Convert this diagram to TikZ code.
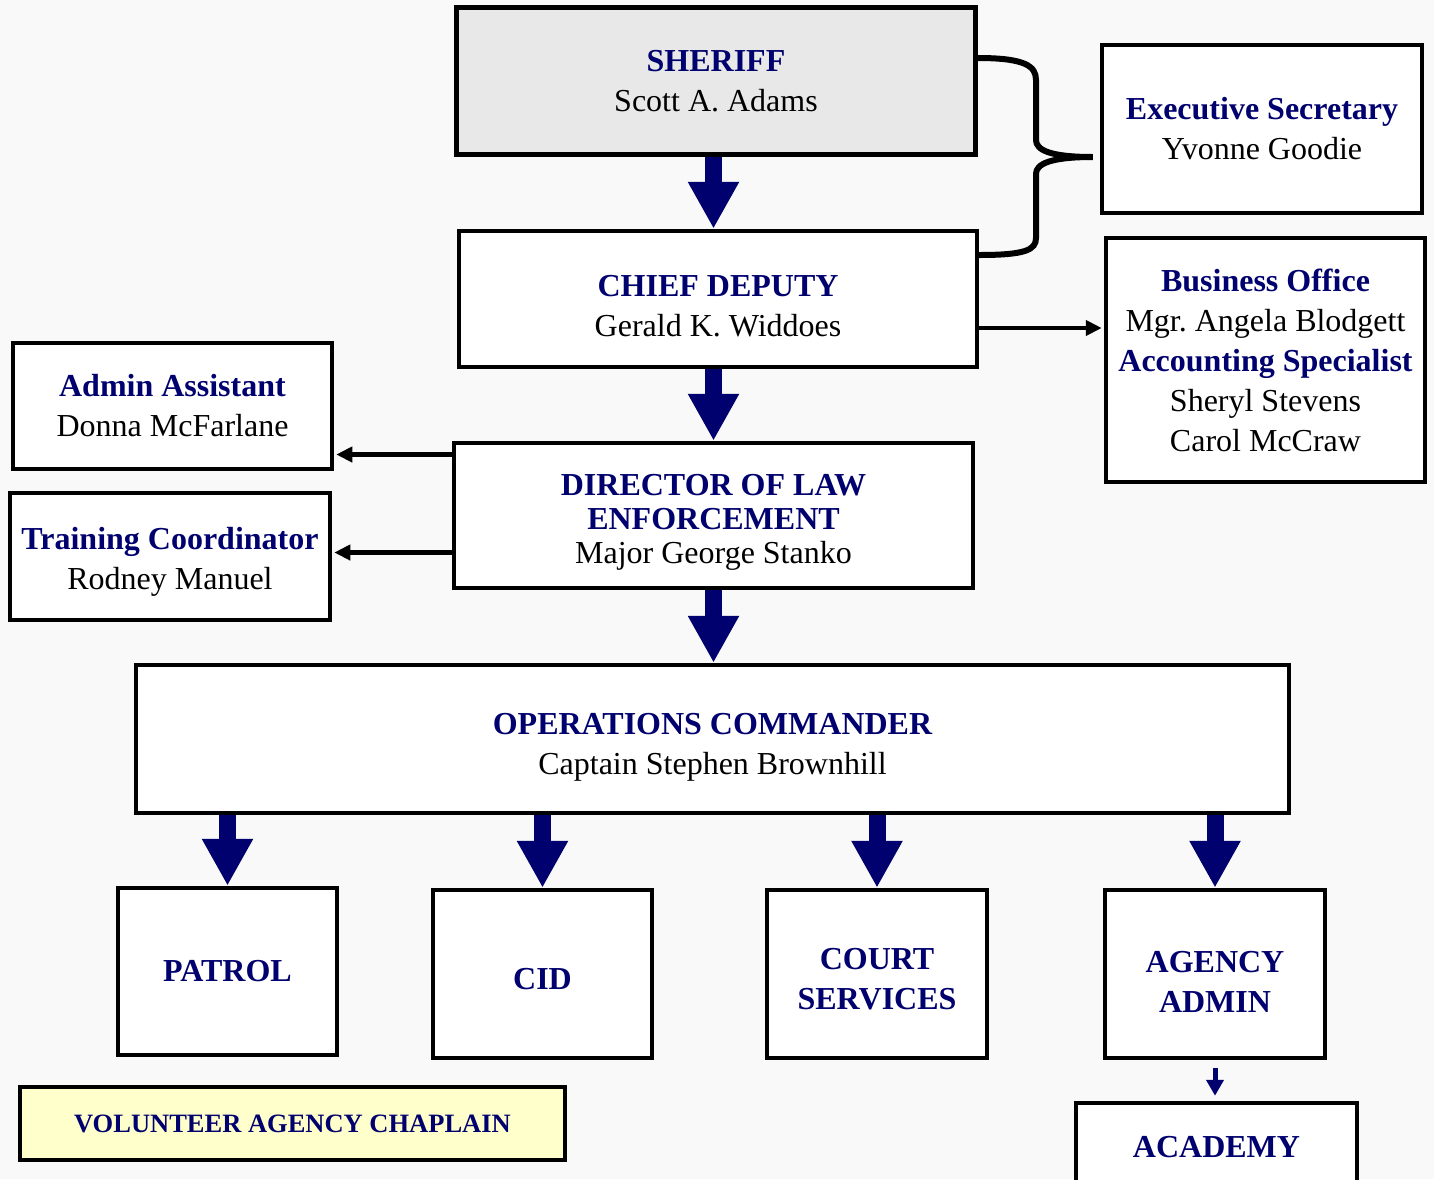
\documentclass[tikz,border=0pt]{standalone}
\usepackage{fontspec}
\setmainfont{Liberation Serif}
\usetikzlibrary{arrows.meta}
\definecolor{navy}{RGB}{0,0,110}
\definecolor{sheriffgray}{RGB}{232,232,232}
\definecolor{chaplainyellow}{RGB}{255,255,204}
\definecolor{pagegray}{RGB}{249,249,249}
\newcommand{\post}[1]{{\bfseries\color{navy}#1}}
\newcommand{\lowerby}[1]{\rule{0pt}{#1}}

\begin{document}
\begin{tikzpicture}[x=0.5pt,y=-0.5pt,
    box/.style={rectangle,draw,line width=2.25pt,fill=white,align=center,
      inner sep=0pt,font=\fontsize{16}{20}\selectfont},
    big arrow/.style={draw=navy,line width=8.5pt,-{Triangle[length=23.5pt,width=24pt]}},
    small arrow/.style={draw=navy,line width=2.5pt,-{Triangle[length=8pt,width=8.5pt]}},
    side arrow/.style={draw,line width=2.25pt,shorten >=1pt,-{Triangle[length=8pt,width=7.5pt]}},
    brace/.style={draw,line width=3pt,line cap=round}]

  \useasboundingbox (0,0) rectangle (1434,1179);
  \clip (0,0) rectangle (1434,1179);
  \fill[pagegray] (0,0) rectangle (1434,1179);

  \node[box,fill=sheriffgray,minimum width=259.5pt,minimum height=73.5pt] (sheriff) at (716,81) {\post{SHERIFF}\\Scott A. Adams};
  \node[box,minimum width=160pt,minimum height=84pt] (secretary) at (1262,129) {\post{Executive Secretary}\\Yvonne Goodie};
  \node[box,minimum width=259pt,minimum height=68pt] (chief) at (718,299) {\lowerby{18pt}\post{CHIEF DEPUTY}\\Gerald K. Widdoes};
  \node[box,minimum width=159.5pt,minimum height=122pt] (business) at (1265.5,360) {\post{Business Office}\\Mgr.\ Angela Blodgett\\\post{Accounting Specialist}\\Sheryl Stevens\\Carol McCraw};
  \node[box,minimum width=159.5pt,minimum height=63pt] (admin) at (172.5,406) {\post{Admin Assistant}\\Donna McFarlane};
  \node[box,minimum width=160pt,minimum height=63.5pt] (training) at (170,556.5) {\lowerby{16pt}\post{Training Coordinator}\\Rodney Manuel};
  \node[box,minimum width=259.5pt,minimum height=72.5pt,font=\fontsize{16}{17}\selectfont] (director) at (713.5,515.5) {\lowerby{17pt}\post{DIRECTOR OF LAW}\\\post{ENFORCEMENT}\\Major George Stanko};
  \node[box,minimum width=576.5pt,minimum height=74pt] (ops) at (712.5,739) {\lowerby{19pt}\post{OPERATIONS COMMANDER}\\Captain Stephen Brownhill};
  \node[box,minimum width=109.5pt,minimum height=83.5pt] (patrol) at (227.5,971.5) {\post{PATROL}};
  \node[box,minimum width=109.5pt,minimum height=84pt] (cid) at (542.5,974) {\lowerby{16pt}\post{CID}};
  \node[box,minimum width=110pt,minimum height=84pt] (court) at (877,974) {\lowerby{16pt}\post{COURT}\\\post{SERVICES}};
  \node[box,minimum width=110pt,minimum height=84pt] (agency) at (1215,974) {\lowerby{19pt}\post{AGENCY}\\\post{ADMIN}};
  \node[box,minimum width=140.5pt,minimum height=44pt] (academy) at (1216.5,1147) {\post{ACADEMY}};
  \node[box,fill=chaplainyellow,minimum width=272.5pt,minimum height=36.5pt,font=\fontsize{13.25}{16}\selectfont] (chaplain) at (292.5,1123.5) {\post{VOLUNTEER AGENCY CHAPLAIN}};

  \coordinate (chief out) at ([yshift=-14.5pt]chief.east);
  \coordinate (director out a) at ([yshift=30.5pt]director.west);
  \coordinate (director out b) at ([yshift=-18.5pt]director.west);
  \coordinate (brace top) at ([yshift=11.5pt]sheriff.east);
  \coordinate (brace bottom) at ([yshift=22pt]chief.east);
  \coordinate (brace tip) at ([xshift=-3.5pt,yshift=-14pt]secretary.west);

  % brace to the secretary
  \draw[brace] (brace top) .. controls (1025,58) and (1036,66) .. (1036,80) -- (1036,140)
    .. controls (1036,150) and (1050,157) .. (brace tip)
    .. controls (1050,157) and (1036,164) .. (1036,174) -- (1036,238)
    .. controls (1036,250) and (1025,255) .. (brace bottom);

  \path
    (director.north |- sheriff.south) edge[big arrow] (director.north |- chief.north)
    (director.north |- chief.south) edge[big arrow] (director.north)
    (director.south) edge[big arrow] (director.south |- ops.north)
    (patrol.north |- ops.south) edge[big arrow] (patrol.north)
    (cid.north |- ops.south) edge[big arrow] (cid.north)
    (court.north |- ops.south) edge[big arrow] (court.north)
    (agency.north |- ops.south) edge[big arrow] (agency.north)
    (agency.south) edge[small arrow,shorten <=4pt,shorten >=2.5pt] (agency.south |- academy.north)
    (chief out) edge[side arrow] (chief out -| business.west)
    (director out a) edge[side arrow] (director out a -| admin.east)
    (director out b) edge[side arrow] (director out b -| training.east)
    ;
\end{tikzpicture}
\end{document}
